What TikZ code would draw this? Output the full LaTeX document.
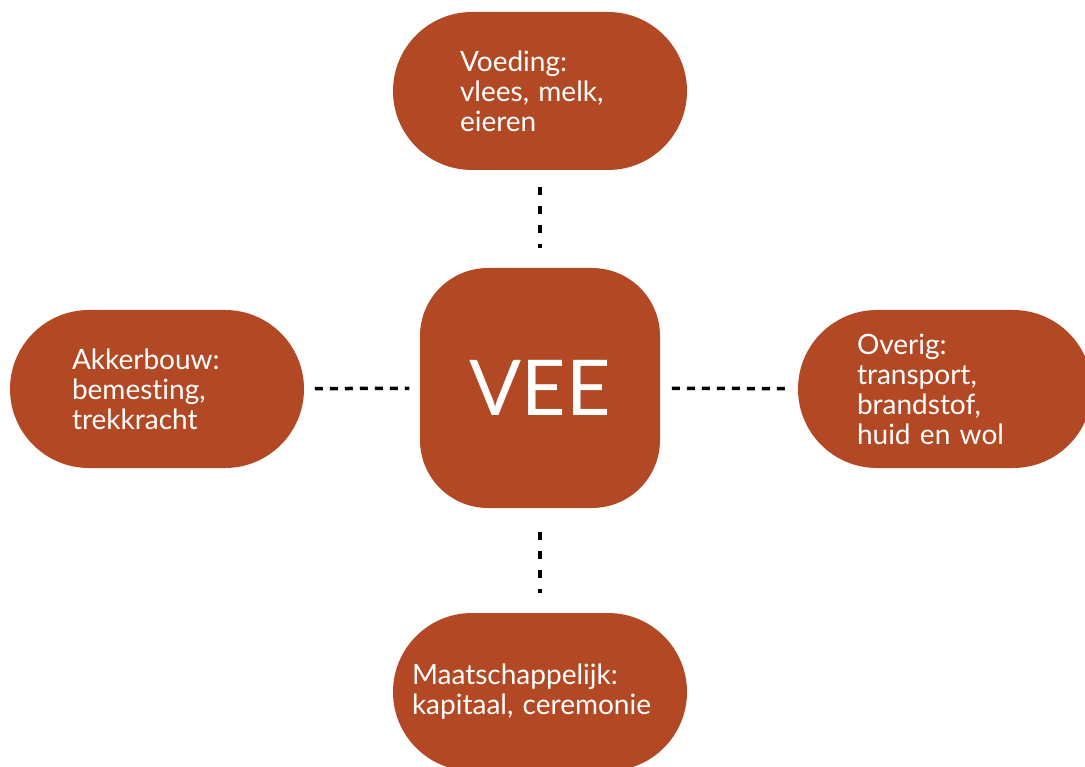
\documentclass[tikz,border=0pt]{standalone}
\usepackage{fontspec}
\setmainfont{Lato}[Ligatures=NoCommon]
\definecolor{rust}{RGB}{179,73,36}

\begin{document}
\begin{tikzpicture}[x=1pt,y=-1pt,line width=3.5pt,
    pill/.style={fill=rust,text=white,rounded corners=79pt,minimum width=294pt,minimum height=158pt,
      inner sep=0pt,align=left,font=\fontsize{28}{30}\selectfont},
    hub/.style={fill=rust,text=white,rounded corners=68pt,minimum size=240pt,inner sep=0pt,
      font=\fontsize{77}{80}\selectfont},
    link/.style={dash pattern=on 8pt off 7pt},
    vlink/.style={dash pattern=on 8pt off 11pt}]

    \useasboundingbox (0,0) rectangle (1085,767);

    \node[hub]  (vee)   at (540,388) {VEE};

    \node[pill,text width=160pt] (voed)   at (540,91)  {Voeding:\\vlees, melk,\\eieren};
    \node[pill,text width=170pt] (akker)  at (157,389) {Akkerbouw:\\bemesting,\\trekkracht};
    \node[pill,text width=176pt] (overig) at (945,389) {Overig:\\transport,\\brandstof,\\huid en wol};
    \node[pill,text width=256pt] (maat)   at (540,692) {Maatschappelijk:\\kapitaal, ceremonie};

    %\draw[link] (vee) -- (voed);
    \draw[vlink,shorten <=15pt,shorten >=18pt] (voed) -- (vee);
    \draw[link,shorten <=9pt,shorten >=9pt]   (akker) -- (vee);
    \draw[link,shorten <=10pt,shorten >=10pt] (vee) -- (overig);
    \draw[vlink,shorten <=22pt,shorten >=18pt] (vee) -- (maat);

\end{tikzpicture}
\end{document}
